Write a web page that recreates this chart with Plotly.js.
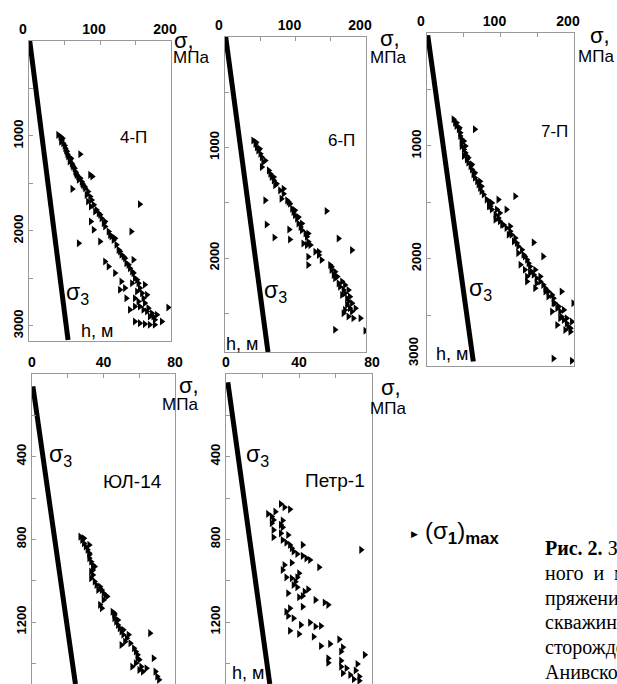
<!DOCTYPE html>
<html>
<head>
<meta charset="utf-8">
<script src="https://cdn.plot.ly/plotly-3.0.1.min.js"></script>
<style>html,body{margin:0;padding:0;background:#fff;}#chart{width:617px;height:684px;}</style>
</head>
<body>
<div id="chart"></div>
<script>
// ---------- DATA ----------
const wellNames = ["4-П", "6-П", "7-П", "ЮЛ-14", "Петр-1"];

// 4-П : (σ1)max, MPa vs depth h, m
const p1Stress = [44,46,48,51,53,55,58,60,62,65,69,74,76,79,83,86,88,91,95,98,102,105,107,112,116,119,123,126,130,135,137,142,147,149,154,156,159,161,163,168,173,175,177,
  47,41,50,54,59,64,67,72,78,81,83,87,93,100,107,114,121,128,133,140,145,152,145,149,154,156,166,170,180,
  45,52,57,61,66,70,75,
  72,86,89,61,156,87,91,144,70,100,107,112,121,147,130,135,128,152,163,166,196,149,156,163,170,177,187,142,149,161,137];
const p1Depth = [1007,1042,1077,1130,1165,1217,1252,1288,1323,1375,1428,1481,1516,1551,1586,1638,1674,1726,1779,1814,1867,1919,1954,2007,2060,2095,2147,2200,2252,2288,2340,2393,2445,2498,2551,2603,2656,2709,2761,2814,2867,2902,2937,
  1024,989,1102,1193,1235,1340,1410,1445,1533,1621,1691,1744,1796,1831,1902,2042,2077,2217,2270,2358,2428,2516,2551,2709,2744,2796,2849,2902,2884,
  1060,1150,1270,1305,1390,1460,1500,
  1193,1410,1428,1558,1719,1902,1989,2007,2130,2112,2323,2375,2445,2305,2533,2603,2621,2639,2568,2674,2807,2954,2972,2982,2989,2989,2954,2831,2796,2831,2709];

// 6-П
const p2Stress = [40,43,45,47,50,52,54,52,62,64,66,69,71,78,83,80,88,92,95,97,99,102,104,107,109,114,116,111,116,128,133,137,149,151,154,156,161,163,168,170,173,175,173,177,180,168,175,182,
  44,49,57,69,73,83,90,99,104,109,118,118,121,133,151,156,159,166,170,166,175,177,180,170,185,
  57,144,59,91,70,92,161,118,118,180,192,156,199];
const p2Depth = [937,967,997,1027,1057,1087,1132,1177,1207,1237,1267,1297,1342,1388,1418,1463,1478,1508,1553,1583,1613,1643,1688,1718,1748,1778,1808,1868,1883,1943,1973,2018,2063,2108,2153,2183,2229,2259,2289,2319,2364,2394,2424,2454,2484,2499,2529,2544,
  952,1012,1117,1267,1327,1373,1493,1568,1628,1688,1778,1853,1883,1943,2078,2123,2168,2213,2243,2334,2289,2349,2408,2469,2454,
  1478,1574,1697,1742,1814,1832,1823,1988,2063,1928,2544,2649,2658];

// 7-П
const p3Stress = [36,38,40,43,45,45,47,47,47,50,52,54,54,56,59,61,63,65,68,70,72,74,77,84,86,88,93,97,99,104,108,113,115,120,122,124,129,131,136,138,140,142,145,149,154,158,161,165,170,172,174,177,181,183,186,190,192,195,
  40,44,50,52,50,56,61,65,72,74,81,88,84,95,99,93,102,113,111,118,124,133,127,133,140,147,154,136,149,161,165,172,170,179,186,181,190,177,197,195,188,
  65,120,108,97,145,158,136,147,183,199,172,197];
const p3Depth = [764,794,824,853,883,913,942,972,1002,1031,1061,1090,1120,1150,1179,1209,1253,1283,1313,1342,1372,1401,1431,1490,1535,1564,1609,1639,1668,1698,1727,1757,1787,1816,1861,1890,1920,1964,2009,2039,2068,2113,2142,2172,2201,2231,2261,2290,2320,2350,2394,2439,2468,2513,2542,2572,2601,2646,
  794,839,957,1002,1090,1105,1164,1238,1313,1357,1476,1505,1535,1564,1594,1653,1698,1713,1787,1846,1950,1979,2053,2098,2127,2098,2157,2157,2216,2290,2335,2394,2468,2424,2453,2527,2527,2587,2557,2616,2631,
  853,1446,1564,1476,1855,1979,2201,2261,2290,2394,2883,2904];

// ЮЛ-14
const p4Stress = [27,28,29,30,31,32,32,33,34,35,33,34,33,35,36,38,39,40,42,40,38,39,45,46,46,47,48,49,50,51,53,52,50,55,57,58,59,60,58,56,61,60,64,66,68,69,70,71,
  29,32,32,34,37,41,46,48,51,54,59,62];
const p4Depth = [787,803,819,835,851,867,891,908,924,932,956,972,988,1004,1021,1029,1045,1061,1077,1093,1117,1133,1150,1166,1182,1198,1214,1230,1246,1262,1279,1295,1311,1303,1327,1343,1359,1383,1400,1416,1416,1432,1424,1254,1375,1440,1464,1480,
  795,827,875,948,1045,1069,1158,1190,1238,1262,1375,1440];

// Петр-1
const p5Stress = [30,32,35,27,23,25,26,31,25,30,31,26,30,34,26,31,33,35,42,36,37,39,42,44,46,74,51,32,36,31,40,33,36,39,38,37,39,45,43,34,42,40,49,54,56,42,35,33,34,37,41,46,49,52,35,40,48,52,57,62,64,63,76,56,56,63,72,63,66,71,64,68,73,70,73];
const p5Depth = [629,645,655,666,677,690,706,709,722,730,742,755,771,779,790,803,816,827,827,843,859,871,880,892,900,851,935,924,913,948,964,984,988,984,1005,1021,1032,1042,1053,1061,1074,1080,1093,1106,1117,1126,1134,1150,1171,1182,1214,1203,1222,1219,1242,1258,1271,1316,1306,1284,1322,1343,1359,1376,1397,1387,1403,1416,1424,1435,1448,1456,1464,1477,1484];

// σ3 lines (stress MPa, depth m)
const s3Stress = [[1, 55], [1, 61], [1, 63], [0.5, 24.3], [1, 24]];
const s3Depth  = [[0, 3150], [0, 2850], [20, 2910], [60, 1500], [40, 1500]];

// axis ticks
const topTicks = [0, 50, 100, 150, 200];
const topTickText = ["0", " ", "100", " ", "200"];
const botTicks = [0, 20, 40, 60, 80];
const botTickText = ["0", " ", "40", " ", "80"];
const deepTicks = [0, 500, 1000, 1500, 2000, 2500, 3000];
const deepTickText = [" ", " ", "1000", " ", "2000", " ", "3000"];
const shallowTicks = [0, 200, 400, 600, 800, 1000, 1200, 1400];
const shallowTickText = [" ", " ", "400", " ", "800", " ", "1200", " "];

// ---------- LAYOUT ----------
const W = 617, H = 684;
const fx = x => x / W;
const fy = y => 1 - y / H;
const SANS = "Liberation Sans, Arial, sans-serif";
const SERIF = "Liberation Serif, Times New Roman, serif";

const allStress = [p1Stress, p2Stress, p3Stress, p4Stress, p5Stress];
const allDepth = [p1Depth, p2Depth, p3Depth, p4Depth, p5Depth];

// panel boxes in pixels: [left, right, top, bottom]
const boxes = [[29, 171, 41, 341], [225, 366, 37, 352], [427, 574, 33, 366], [32, 175, 374, 684], [226, 372, 374, 684]];
const xRanges = [[0, 200], [0, 200], [0, 200], [0, 80], [0, 80]];
const yRanges = [[3160, 0], [2850, 0], [2950, 0], [1500, 0], [1500, 0]];

const tickFont = {family: SANS, size: 14, color: "#000", weight: "bold"};
const layout = {
  width: W, height: H,
  margin: {l: 0, r: 0, t: 0, b: 0},
  paper_bgcolor: "#fff", plot_bgcolor: "#fff",
  showlegend: false,
  annotations: []
};

const traces = [];
for (let i = 0; i < 5; i++) {
  const n = i === 0 ? "" : String(i + 1);
  const b = boxes[i];
  const top = i < 3;
  layout["xaxis" + n] = {
    domain: [fx(b[0]), fx(b[1])], range: xRanges[i], side: "top", anchor: "y" + n,
    tickmode: "array", tickvals: top ? topTicks : botTicks, ticktext: top ? topTickText : botTickText,
    ticks: "inside", ticklen: 4, tickcolor: "#999", tickwidth: 1,
    ticklabelshift: top ? -6 : 0,
    showline: true, linecolor: "#999", linewidth: 1, mirror: top,
    showgrid: false, zeroline: false, tickfont: tickFont, fixedrange: true
  };
  let yt = top ? deepTicks.slice() : shallowTicks;
  let ytt = top ? deepTickText.slice() : shallowTickText;
  if (i === 1 || i === 2) { yt = yt.slice(0, 6); ytt = ytt.slice(0, 6); }
  layout["yaxis" + n] = {
    domain: [fy(b[3]), fy(b[2])], range: yRanges[i], anchor: "x" + n,
    tickmode: "array", tickvals: yt, ticktext: ytt, tickangle: -90,
    ticks: "inside", ticklen: 4, tickcolor: "#999", tickwidth: 1,
    showline: true, linecolor: "#999", linewidth: 1, mirror: true,
    showgrid: false, zeroline: false, tickfont: {family: SANS, size: 13, color: "#000", weight: "bold"}, fixedrange: true
  };
  traces.push({
    type: "scatter", mode: "lines", x: s3Stress[i], y: s3Depth[i],
    xaxis: "x" + n, yaxis: "y" + n, line: {color: "#000", width: 5},
    hoverinfo: "skip", showlegend: false
  });
  traces.push({
    type: "scatter", mode: "markers", x: allStress[i], y: allDepth[i],
    xaxis: "x" + n, yaxis: "y" + n,
    marker: {symbol: "triangle-right", size: 7, color: "#000", line: {width: 0}},
    hoverinfo: "skip", showlegend: false
  });
}

function ann(text, x, y, size, extra) {
  layout.annotations.push(Object.assign({
    text: text, xref: "paper", yref: "paper", x: fx(x), y: fy(y),
    xanchor: "center", yanchor: "middle", showarrow: false,
    font: {family: SANS, size: size, color: "#000"}
  }, extra || {}));
}

// σ, МПа labels
[[184, 40, 191, 57], [390, 38, 388, 57], [600, 36, 596, 56], [189, 385, 180, 405], [391, 387, 388, 408]].forEach(p => {
  ann("σ,", p[0], p[1], 22);
  ann("МПа", p[2], p[3], 17);
});
// well names
[[133, 138, 17], [342, 141, 17], [554, 131, 17], [132, 481, 19], [335, 480, 19]].forEach((p, i) => ann(wellNames[i], p[0], p[1], p[2]));
// σ3 labels
[[78, 293], [275, 291], [480, 289], [60, 455], [257, 455]].forEach(p => ann("σ<sub>3</sub>", p[0], p[1], 23));
// h, м labels
[[97, 331], [242, 344], [452, 354], [248, 673]].forEach(p => ann("h, м", p[0], p[1], 18));
// extra depth tick label of 7-П
ann("3000", 413, 352, 13, {textangle: -90, font: {family: SANS, size: 13, color: "#000", weight: "bold"}});
// legend
ann("▶", 414, 534, 9);
ann("(σ<sub><b>1</b></sub>)<sub><b>max</b></sub>", 423, 532, 24, {xanchor: "left"});
// caption (cut by the right edge, as in the source page)
const captionLines = [
  "<b>Рис. 2.</b> Зависимость максималь-",
  "ного\u00a0 и\u00a0 минимального на-",
  "пряжений от глубины для",
  "скважин Петропавловского ме-",
  "сторождения и Южно-Луговской",
  "Анивского района"
];
const capY = [548, 573, 598, 622, 647, 672];
captionLines.forEach((t, i) => ann(t, 543, capY[i], 20, {xanchor: "left", font: {family: SERIF, size: 20, color: "#000"}}));

Plotly.newPlot("chart", traces, layout, {staticPlot: true, displayModeBar: false});
</script>
</body>
</html>
